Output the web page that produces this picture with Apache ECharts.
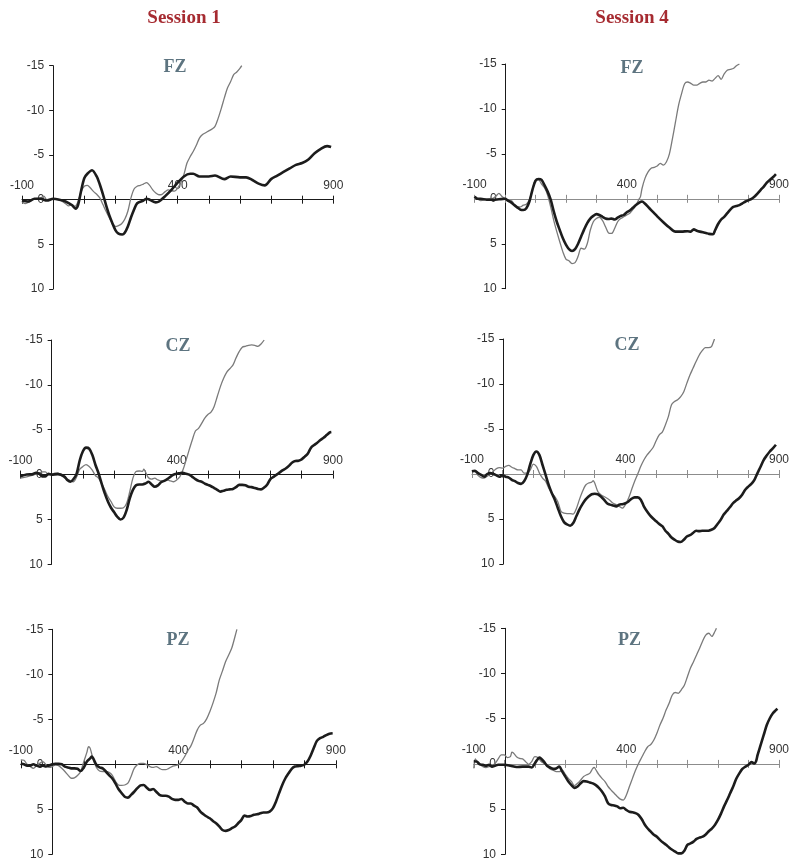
<!DOCTYPE html>
<html>
<head>
<meta charset="utf-8">
<script src="https://cdn.jsdelivr.net/npm/echarts@6/dist/echarts.min.js"></script>
<style>
  html, body { margin: 0; padding: 0; background: #ffffff; }
  #chart { width: 792px; height: 861px; }
</style>
</head>
<body>
<div id="chart"></div>
<script>
// Column headings and electrode sites
const sessionTitles = ['Session 1', 'Session 4'];
const siteNames = ['FZ', 'CZ', 'PZ'];

// Axis scales (µV inverted, negative up; time in ms)
const yMin = -15, yMax = 10, yStep = 5;
const xMin = -100, xMax = 900, xStep = 100;
const xLabelValues = [-100, 400, 900];

// ---- Session 1 ----
const fzS1Black = [[-100,0.1],[-80,0.2],[-60,-0.1],[-40,-0.1],[-20,0.1],[0,-0.1],[20,0],[40,0.2],[60,0.6],[72,1.0],[80,0.6],[90,-1.0],[100,-2.4],[110,-2.9],[125,-3.3],[140,-2.6],[150,-1.7],[160,-0.6],[170,0.6],[180,1.7],[190,2.6],[200,3.4],[210,3.8],[222,3.9],[230,3.7],[240,3.0],[250,2.0],[260,1.1],[270,0.4],[290,0.1],[300,-0.1],[310,0],[330,0.3],[340,0.2],[360,-0.4],[380,-1.1],[400,-1.9],[420,-2.6],[440,-2.9],[450,-2.9],[470,-2.6],[500,-2.6],[520,-2.7],[550,-2.3],[570,-2.6],[600,-2.5],[620,-2.5],[640,-2.2],[660,-1.8],[680,-1.6],[700,-2.3],[720,-2.7],[740,-3.1],[760,-3.5],[780,-3.9],[800,-4.1],[820,-4.5],[840,-5.2],[860,-5.7],[880,-6.0],[893,-5.9]];
const fzS1Gray = [[-100,0.2],[-90,0.45],[-80,0.3],[-60,-0.1],[-40,-0.2],[-30,-0.4],[-20,0],[0,-0.1],[20,0],[40,0.45],[50,0.7],[60,0.55],[70,0.75],[80,0.2],[90,-0.9],[100,-1.5],[110,-1.6],[120,-1.3],[130,-0.9],[140,-0.6],[150,-0.2],[160,0.55],[170,1.3],[180,2.0],[190,2.6],[200,3.0],[210,2.9],[220,2.7],[230,2.2],[240,1.3],[250,-0.2],[260,-1.2],[270,-1.5],[280,-1.6],[290,-1.75],[300,-1.9],[310,-1.6],[320,-1.1],[330,-0.75],[340,-0.55],[350,-0.6],[360,-0.9],[370,-1.1],[380,-1.0],[390,-0.95],[400,-1.3],[410,-1.9],[420,-2.8],[430,-4.1],[440,-4.8],[450,-5.4],[460,-6.1],[470,-6.9],[480,-7.3],[490,-7.5],[500,-7.7],[510,-7.9],[520,-8.2],[530,-9.1],[540,-10.2],[550,-11.4],[560,-12.5],[570,-13.2],[580,-14.0],[590,-14.3],[600,-14.7],[606,-15]];

const czS1Black = [[-100,0.2],[-80,0],[-60,-0.05],[-50,-0.2],[-40,-0.1],[-30,0.2],[-20,0.2],[-10,-0.1],[0,0],[20,-0.05],[40,0.2],[50,0.6],[60,0.8],[70,0.5],[80,-0.1],[90,-1.6],[100,-2.6],[110,-3.0],[120,-2.9],[130,-2.2],[140,-1.1],[150,-0.15],[160,1.0],[170,2.1],[180,3.0],[190,3.7],[200,4.2],[210,4.7],[220,5.0],[230,4.8],[240,3.95],[250,2.65],[260,1.7],[270,1.2],[280,1.1],[290,1.1],[300,1.0],[310,0.8],[320,1.1],[330,1.35],[340,1.2],[350,0.85],[360,0.7],[370,0.5],[380,0.25],[390,0],[400,-0.1],[410,-0.15],[420,-0.2],[430,-0.1],[440,0],[450,0.25],[460,0.5],[470,0.7],[480,0.8],[490,1.0],[500,1.15],[510,1.3],[520,1.5],[530,1.7],[540,1.9],[550,1.8],[560,1.7],[570,1.65],[580,1.6],[590,1.4],[600,1.15],[610,1.15],[620,1.2],[630,1.35],[640,1.4],[650,1.5],[660,1.6],[670,1.65],[680,1.45],[690,1.1],[700,0.5],[710,0.25],[720,0],[730,-0.25],[740,-0.5],[750,-0.7],[760,-1.0],[770,-1.35],[780,-1.5],[790,-1.55],[800,-1.7],[810,-2.0],[820,-2.35],[830,-3.0],[840,-3.3],[850,-3.55],[860,-3.85],[870,-4.1],[880,-4.4],[890,-4.7],[895,-4.75]];
const czS1Gray = [[-100,0.4],[-80,0.25],[-60,0.05],[-50,-0.05],[-40,-0.15],[-30,-0.3],[-20,-0.3],[-10,0.05],[0,0],[10,-0.15],[20,-0.2],[30,0.05],[40,0.35],[50,0.5],[60,0.7],[70,0.8],[80,0.25],[90,-0.6],[100,-0.9],[110,-1.1],[120,-0.9],[130,-0.5],[140,0.1],[150,0.4],[160,1.0],[170,1.7],[180,2.45],[190,3.0],[200,3.6],[210,3.75],[220,3.75],[230,3.7],[240,3.2],[250,1.9],[260,0.4],[270,-0.35],[280,-0.4],[290,-0.35],[295,-0.6],[300,-0.3],[310,0.35],[320,0.5],[330,0.4],[340,0.6],[350,0.7],[360,0.7],[370,0.6],[380,0.7],[390,0.8],[400,0.6],[410,0.25],[420,-0.5],[430,-1.6],[440,-2.75],[450,-3.85],[460,-4.85],[470,-5.15],[480,-5.7],[490,-6.3],[500,-6.7],[510,-6.95],[520,-7.6],[530,-8.7],[540,-9.8],[550,-10.7],[560,-11.4],[570,-11.8],[580,-12.2],[590,-13.0],[600,-13.7],[610,-14.2],[620,-14.3],[630,-14.4],[640,-14.45],[650,-14.4],[660,-14.3],[670,-14.55],[680,-15]];

const pzS1Black = [[-100,-0.1],[-90,0],[-80,0.15],[-70,0.15],[-60,0],[-50,0.15],[-40,0.25],[-30,0.15],[-20,0.25],[-10,0.15],[0,0],[10,-0.05],[20,-0.05],[30,0],[40,0.25],[50,0.35],[60,0.45],[70,0.45],[80,0.5],[90,0.75],[100,0.35],[110,-0.3],[120,-0.65],[125,-0.85],[130,-0.65],[140,0.05],[150,0.35],[160,0.45],[170,0.8],[180,1.2],[190,1.55],[200,2.1],[210,2.75],[220,3.2],[230,3.6],[240,3.7],[250,3.4],[260,3.05],[270,2.65],[280,2.35],[290,2.3],[300,2.6],[310,2.85],[320,2.75],[330,3.05],[340,3.4],[350,3.5],[360,3.5],[370,3.6],[380,3.85],[390,3.95],[400,3.95],[410,3.85],[420,4.15],[430,4.35],[440,4.35],[450,4.6],[460,4.8],[470,5.25],[480,5.55],[490,5.8],[500,6.0],[510,6.3],[520,6.55],[530,6.9],[540,7.3],[550,7.4],[560,7.3],[570,7.1],[580,6.9],[590,6.55],[600,6.2],[610,5.7],[620,5.8],[630,5.75],[640,5.6],[650,5.55],[660,5.45],[670,5.35],[680,5.35],[690,5.25],[700,4.9],[710,4.15],[720,3.2],[730,2.3],[740,1.55],[750,1.0],[760,0.5],[770,0.25],[780,0.2],[790,0.15],[800,0.05],[810,-0.3],[820,-0.95],[830,-1.8],[840,-2.6],[850,-2.9],[860,-3.05],[870,-3.25],[880,-3.4],[890,-3.45]];
const pzS1Gray = [[-100,-0.5],[-90,-0.45],[-80,0],[-70,0.25],[-60,0.45],[-50,0.15],[-40,-0.1],[-30,-0.3],[-20,0.05],[-10,0.35],[0,0.25],[10,0.05],[20,0.15],[30,0.45],[40,0.8],[50,1.2],[60,1.55],[70,1.5],[80,1.25],[90,0.8],[100,-0.3],[110,-1.35],[115,-1.95],[120,-1.8],[130,-0.5],[140,0.35],[150,0.75],[160,0.8],[170,0.8],[180,0.9],[190,1.2],[200,1.85],[210,2.3],[220,2.35],[230,2.3],[240,2.1],[250,1.35],[260,0.45],[270,0.05],[280,-0.1],[290,-0.1],[300,0.05],[310,0.25],[320,0.35],[330,0.25],[340,0.45],[350,0.6],[360,0.6],[370,0.45],[380,0.25],[390,0.15],[400,0.05],[410,-0.3],[420,-0.85],[430,-1.5],[440,-2.05],[450,-2.9],[460,-3.8],[470,-4.35],[480,-4.55],[490,-5.05],[500,-5.85],[510,-6.8],[520,-7.9],[530,-9.35],[540,-10.35],[550,-11.4],[560,-12.15],[570,-12.95],[580,-14.2],[586,-15]];

// ---- Session 4 ----
const fzS4Black = [[-100,-0.25],[-90,0],[-80,0],[-60,0.1],[-40,0.1],[-20,0.05],[0,0],[10,0.2],[20,0.4],[30,0.7],[40,0.95],[50,1.2],[60,1.25],[70,1.05],[80,0.3],[90,-1.0],[100,-2.0],[110,-2.2],[120,-2.1],[130,-1.5],[140,-0.8],[150,0.1],[160,1.4],[170,2.55],[180,3.5],[190,4.4],[200,5.1],[210,5.6],[220,5.8],[230,5.6],[240,5.0],[250,4.2],[260,3.4],[270,2.7],[280,2.2],[290,1.9],[300,1.7],[310,1.8],[320,2.0],[330,2.2],[340,2.25],[350,2.2],[360,2.3],[370,2.1],[380,1.9],[390,1.8],[400,1.5],[410,1.3],[420,1.0],[430,0.7],[440,0.45],[450,0.3],[460,0.55],[470,0.9],[480,1.25],[490,1.6],[500,1.95],[520,2.6],[540,3.2],[560,3.65],[580,3.65],[600,3.6],[610,3.65],[620,3.4],[630,3.55],[640,3.65],[660,3.8],[670,3.9],[683,3.95],[690,3.5],[700,2.8],[710,2.3],[720,2.0],[730,1.6],[740,1.2],[750,0.9],[760,0.8],[770,0.7],[780,0.5],[790,0.3],[800,0.15],[810,0],[820,-0.25],[830,-0.6],[840,-1.0],[850,-1.35],[860,-1.8],[870,-2.1],[880,-2.4],[890,-2.75]];
const fzS4Gray = [[-100,-0.25],[-90,0],[-80,0.2],[-60,0],[-40,-0.05],[-30,-0.3],[-20,-0.6],[-10,-0.25],[0,0],[10,0.3],[20,0.2],[30,0.6],[40,0.9],[50,0.9],[60,0.7],[70,0.6],[80,0.1],[90,-1.0],[100,-2.1],[110,-2.1],[120,-1.65],[130,-1.2],[140,-0.4],[150,0.9],[160,2.4],[170,3.65],[180,4.8],[190,5.9],[200,6.7],[210,6.9],[220,7.2],[230,7.1],[240,6.4],[250,5.5],[260,5.6],[270,5.0],[280,3.5],[290,2.55],[300,2.2],[310,2.05],[320,2.4],[330,3.1],[340,3.8],[350,3.85],[360,3.3],[370,2.55],[380,2.2],[390,2.0],[400,1.8],[410,1.6],[420,1.2],[430,0.7],[440,0.05],[445,-0.25],[450,-1.15],[460,-2.3],[470,-3.0],[480,-3.4],[490,-3.5],[500,-3.65],[510,-3.95],[520,-3.75],[530,-4.1],[540,-5.0],[550,-6.7],[560,-8.55],[570,-10.4],[580,-11.7],[590,-12.8],[600,-13.0],[610,-12.85],[620,-12.65],[630,-12.65],[640,-12.85],[650,-13.0],[660,-13.0],[670,-13.2],[680,-13.1],[690,-13.4],[700,-13.7],[710,-13.3],[720,-13.9],[730,-14.3],[740,-14.4],[750,-14.5],[760,-14.8],[770,-15]];

const czS4Black = [[-100,-0.3],[-90,-0.35],[-80,-0.1],[-70,0.1],[-60,0.3],[-50,0],[-40,-0.1],[-30,0],[-20,0.15],[-10,0.3],[0,0.15],[10,0.3],[20,0.4],[30,0.65],[40,0.8],[50,1.0],[60,1.1],[70,0.8],[80,0.1],[90,-1.1],[100,-2.1],[110,-2.5],[120,-2.1],[130,-1.0],[140,0.1],[150,1.2],[160,2.1],[170,2.85],[180,3.8],[190,4.7],[200,5.35],[210,5.6],[220,5.75],[230,5.45],[240,4.7],[250,3.95],[260,3.35],[270,2.85],[280,2.5],[290,2.25],[300,2.2],[310,2.25],[320,2.5],[330,2.85],[340,3.25],[350,3.4],[360,3.5],[370,3.6],[380,3.4],[390,3.35],[400,3.25],[410,3.05],[420,2.75],[430,2.6],[440,2.6],[450,2.85],[460,3.6],[470,4.15],[480,4.6],[490,4.95],[500,5.25],[510,5.55],[520,5.8],[530,6.3],[540,6.65],[550,7.05],[560,7.3],[570,7.5],[580,7.55],[590,7.3],[600,6.95],[610,6.8],[620,6.55],[630,6.3],[640,6.35],[650,6.3],[660,6.3],[670,6.3],[680,6.2],[690,6.0],[700,5.55],[710,5.1],[720,4.5],[730,4.1],[740,3.7],[750,3.25],[760,2.95],[770,2.7],[780,2.3],[790,1.75],[800,1.4],[810,1.1],[820,0.65],[830,-0.1],[840,-0.8],[850,-1.55],[860,-2.05],[870,-2.5],[880,-2.85],[890,-3.25]];
const czS4Gray = [[-100,-0.35],[-90,-0.3],[-80,0.15],[-70,0.4],[-60,0.45],[-50,0.25],[-40,0],[-30,-0.3],[-20,-0.6],[-10,-0.7],[0,-0.65],[10,-0.85],[20,-0.95],[30,-0.75],[40,-0.6],[50,-0.45],[60,-0.45],[70,-0.1],[80,-0.1],[90,-0.45],[100,-1.1],[110,-0.85],[120,-0.1],[130,0.45],[140,0.8],[150,1.55],[160,2.1],[170,2.5],[180,3.1],[190,4.15],[200,4.35],[210,4.4],[220,4.4],[230,4.45],[240,3.85],[250,2.85],[260,1.95],[270,1.25],[280,1.0],[290,0.9],[295,0.75],[300,1.0],[310,1.95],[320,2.3],[330,2.5],[340,2.7],[350,2.95],[360,3.25],[370,3.4],[380,3.6],[390,3.8],[400,3.4],[410,2.7],[420,1.75],[430,0.8],[440,0],[450,-0.85],[460,-1.55],[470,-2.1],[480,-2.5],[490,-2.95],[500,-3.7],[510,-4.35],[520,-4.65],[530,-5.45],[540,-6.4],[550,-7.7],[560,-8.05],[570,-8.25],[580,-8.6],[590,-9.15],[600,-10.1],[610,-11.0],[620,-11.75],[630,-12.5],[640,-13.2],[650,-13.7],[660,-14.05],[670,-14.05],[680,-14.15],[690,-15]];

const pzS4Black = [[-100,-0.3],[-90,-0.25],[-80,0.05],[-70,0.1],[-60,0.2],[-50,0.1],[-40,0.3],[-30,0.2],[-20,0.1],[-10,0.1],[0,0.1],[20,0.2],[40,0.35],[60,0.3],[80,0.3],[90,0.4],[100,-0.05],[110,-0.55],[115,-0.7],[120,-0.6],[130,-0.25],[140,0.2],[150,0.4],[160,0.55],[170,0.5],[180,0.3],[190,0.85],[200,1.4],[210,1.95],[220,2.35],[230,2.65],[240,2.5],[250,2.15],[260,1.9],[270,1.95],[280,2.05],[290,2.15],[300,2.35],[310,2.65],[320,3.05],[330,3.6],[340,4.35],[350,4.55],[360,4.6],[370,4.7],[380,4.9],[390,4.85],[400,5.1],[410,5.3],[420,5.35],[430,5.45],[440,5.65],[450,6.1],[460,6.7],[470,7.15],[480,7.5],[490,7.85],[500,8.05],[510,8.4],[520,8.7],[530,8.95],[540,9.25],[550,9.5],[560,9.7],[570,9.9],[580,9.9],[590,9.6],[600,8.95],[610,8.8],[620,8.6],[630,8.3],[640,8.15],[650,8.05],[660,7.8],[670,7.45],[680,7.15],[690,6.75],[700,6.2],[710,5.5],[720,4.7],[730,4.0],[740,3.25],[750,2.5],[760,1.65],[770,1.05],[780,0.55],[790,0.3],[800,0.1],[810,-0.2],[820,-0.05],[825,-0.3],[830,-1.0],[840,-2.1],[850,-3.2],[860,-4.3],[870,-5.05],[880,-5.6],[890,-5.95],[895,-6.1]];
const pzS4Gray = [[-100,0.5],[-95,-0.55],[-90,-0.3],[-80,0.05],[-70,0.3],[-60,0.4],[-50,0.3],[-40,0.2],[-30,-0.05],[-20,-0.55],[-10,-1.0],[0,-1.0],[10,-0.7],[20,-0.8],[25,-1.3],[30,-1.2],[40,-0.8],[50,-0.6],[60,-0.55],[70,-0.25],[80,0.05],[90,-0.25],[100,-0.8],[110,-0.7],[120,-0.3],[130,-0.05],[140,0.2],[150,0.55],[160,0.7],[170,0.85],[180,0.85],[190,0.7],[200,1.15],[210,1.6],[220,1.95],[230,2.4],[240,2.15],[250,1.8],[260,1.4],[270,1.2],[280,1.05],[290,0.5],[295,0.4],[300,0.65],[310,1.2],[320,1.6],[330,1.95],[340,2.5],[350,2.9],[360,3.25],[370,3.6],[380,3.9],[390,4.0],[400,3.45],[410,2.5],[420,1.6],[430,0.7],[440,-0.05],[450,-0.7],[460,-1.35],[470,-1.9],[480,-2.15],[490,-2.65],[500,-3.4],[510,-4.3],[520,-5.05],[530,-5.95],[540,-6.7],[550,-7.6],[560,-7.9],[570,-7.8],[580,-8.2],[590,-8.7],[600,-9.65],[610,-10.6],[620,-11.3],[630,-12.05],[640,-12.8],[650,-13.6],[660,-14.25],[670,-14.45],[680,-14.1],[690,-14.65],[695,-15]];

// Panel layout: [session column, site row, plot box (left, top, width, height), site-label centre]
const panels = [
  { col: 0, site: 0, black: fzS1Black, gray: fzS1Gray, box: [22, 65.7, 311.3, 223.3], label: [175, 67] },
  { col: 1, site: 0, black: fzS4Black, gray: fzS4Gray, box: [474.6, 64, 311, 224.7], label: [632, 68] },
  { col: 0, site: 1, black: czS1Black, gray: czS1Gray, box: [20.4, 340, 312.5, 224.3], label: [178, 346] },
  { col: 1, site: 1, black: czS4Black, gray: czS4Gray, box: [471.9, 339, 314, 225], label: [627, 345] },
  { col: 0, site: 2, black: pzS1Black, gray: pzS1Gray, box: [20.8, 629.3, 315, 225], label: [178, 640] },
  { col: 1, site: 2, black: pzS4Black, gray: pzS4Gray, box: [473.75, 628.3, 312.5, 226], label: [629.5, 640] }
];
const headingPos = [[184, 18], [632, 18]];

const labelFont = 'Liberation Sans';
const serifFont = 'Liberation Serif';
const xAxisColors = ['#1a1a1a', '#8c8c8c'];
const axisBlack = '#1a1a1a';

const grid = [], xAxis = [], yAxis = [], series = [], graphic = [];

panels.forEach((p, i) => {
  const [left, top, width, height] = p.box;
  // the time axis sits at 0 µV; distance of that line above the plot bottom
  const zeroLift = height * (yMax - 0) / (yMax - yMin);
  // the voltage axis sits at 0 ms; offset of that line from the plot's left edge
  const zeroShift = width * (0 - xMin) / (xMax - xMin);
  const xLineColor = xAxisColors[p.col];

  // grid 2i: full time range, carries the waveforms and the time axis
  grid.push({ left: left, top: top, width: width, height: height });
  // grid 2i+1: 0..900 ms, carries the visible voltage axis at t = 0
  grid.push({ left: left + zeroShift, top: top, width: width - zeroShift, height: height });

  const ga = 2 * i, gb = 2 * i + 1;

  // time axis: line, downward ticks, labels above the line
  xAxis.push({
    type: 'value', gridIndex: ga, position: 'bottom', offset: -zeroLift,
    min: xMin, max: xMax, interval: xStep,
    axisLine: { show: true, onZero: false, lineStyle: { color: xLineColor, width: 1 } },
    axisTick: { show: true, inside: false, length: 4, lineStyle: { color: xLineColor, width: 1 } },
    axisLabel: {
      show: true, inside: true, margin: 8, interval: 0, hideOverlap: false,
      showMinLabel: true, showMaxLabel: true,
      alignMinLabel: 'center', alignMaxLabel: 'center',
      fontFamily: labelFont, fontSize: 12, color: '#333',
      formatter: v => (xLabelValues.indexOf(v) >= 0 ? String(v) : '')
    },
    splitLine: { show: false }
  });
  // companion time axis giving the upward half of each tick
  xAxis.push({
    type: 'value', gridIndex: ga, position: 'bottom', offset: -zeroLift,
    min: xMin, max: xMax, interval: xStep,
    axisLine: { show: false, onZero: false },
    axisTick: { show: true, inside: true, length: 4, lineStyle: { color: xLineColor, width: 1 } },
    axisLabel: { show: false },
    splitLine: { show: false }
  });
  // hidden time axis for the voltage-axis grid
  xAxis.push({
    type: 'value', gridIndex: gb, min: 0, max: xMax, show: false,
    axisLine: { onZero: false }
  });

  // hidden voltage axis for the waveform grid
  yAxis.push({
    type: 'value', gridIndex: ga, inverse: true, min: yMin, max: yMax, interval: yStep, show: false,
    axisLine: { onZero: false }
  });
  // visible voltage axis
  yAxis.push({
    type: 'value', gridIndex: gb, position: 'left', inverse: true, min: yMin, max: yMax, interval: yStep,
    axisLine: { show: true, onZero: false, lineStyle: { color: axisBlack, width: 1 } },
    axisTick: { show: true, inside: false, length: 4, lineStyle: { color: axisBlack, width: 1 } },
    axisLabel: { show: true, margin: 9, fontFamily: labelFont, fontSize: 12, color: '#333' },
    splitLine: { show: false }
  });

  series.push({
    type: 'line', xAxisIndex: 3 * i, yAxisIndex: 2 * i, data: p.gray,
    showSymbol: false, smooth: 0.3, silent: true, z: 3,
    lineStyle: { color: '#7a7a7a', width: 1.3 }
  });
  series.push({
    type: 'line', xAxisIndex: 3 * i, yAxisIndex: 2 * i, data: p.black,
    showSymbol: false, smooth: 0.3, silent: true, z: 4,
    lineStyle: { color: '#1c1c1c', width: 2.6 }
  });

  graphic.push({
    type: 'text', x: p.label[0], y: p.label[1], z: 10,
    style: {
      text: siteNames[p.site], fill: '#5d7480',
      font: 'bold 18px "' + serifFont + '"', align: 'center', verticalAlign: 'middle'
    }
  });
});

sessionTitles.forEach((t, c) => {
  graphic.push({
    type: 'text', x: headingPos[c][0], y: headingPos[c][1], z: 10,
    style: {
      text: t, fill: '#a62b31',
      font: 'bold 19px "' + serifFont + '"', align: 'center', verticalAlign: 'middle'
    }
  });
});

const chart = echarts.init(document.getElementById('chart'), null, { renderer: 'canvas' });
chart.setOption({
  animation: false,
  backgroundColor: '#ffffff',
  grid, xAxis, yAxis, series, graphic
});
</script>
</body>
</html>
